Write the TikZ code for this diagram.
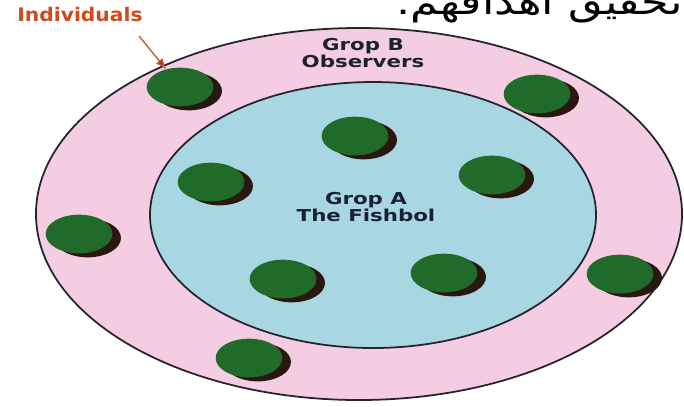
\documentclass[tikz,border=0pt]{standalone}
\usepackage{fontspec}
\usepackage{graphicx}
\usepackage{xcolor}
\usepackage{tikz}
\usetikzlibrary{arrows.meta,shapes.geometric,shadows}
\TeXXeTstate=1
\newfontfamily\labelfont{DejaVu Sans}
\newfontfamily\arabicfont[Script=Arabic]{DejaVu Sans}
\definecolor{ringpink}{HTML}{F5CDE2}
\definecolor{bowlblue}{HTML}{A8D6E3}
\definecolor{ringline}{HTML}{24232E}
\definecolor{fishgreen}{HTML}{216B2A}
\definecolor{fishshade}{HTML}{2A1810}
\definecolor{textnavy}{HTML}{1B2130}
\definecolor{tagorange}{HTML}{D14A1B}
\definecolor{arrowbrown}{HTML}{BC5A35}
\definecolor{arrowred}{HTML}{D0261C}
\newcommand{\wide}[2][1.3]{\scalebox{#1}[1]{#2}}
\tikzset{
  ringfill/.style={draw=ringline,line width=1.5pt},
  fishdot/.style={ellipse,fill=fishgreen,minimum width=2.0cm,minimum height=1.16cm,inner sep=0pt,
    drop shadow={shadow xshift=0.26cm,shadow yshift=-0.12cm,fill=fishshade,opacity=1}},
  grouplabel/.style={font=\labelfont\bfseries\fontsize{14}{14.2}\selectfont,text=textnavy,align=center,inner sep=0pt},
  tagarrow/.style={-{Latex[length=3.2mm,width=2.6mm,fill=arrowred]},draw=arrowbrown,line width=1.1pt}
}
\begin{document}
\begin{tikzpicture}[x=0.03cm,y=-0.03cm]
  \path[use as bounding box,clip] (0,0) rectangle (684,406);
  \fill[white] (0,0) rectangle (684,406);
  % the two rings
  \filldraw[ringfill,fill=ringpink] (359,214) ellipse [x radius=9.69cm,y radius=5.58cm];
  \filldraw[ringfill,fill=bowlblue] (373,215) ellipse [x radius=6.69cm,y radius=3.99cm];
  % group B, outer ring
  \node[fishdot] (obs1) at (180,87) {};
  \node[fishdot] (obs2) at (537,94) {};
  \node[fishdot] (obs3) at (79,234) {};
  \node[fishdot] (obs4) at (620,274) {};
  \node[fishdot] (obs5) at (249,358) {};
  % group A, fishbowl
  \node[fishdot] (fish1) at (355,136) {};
  \node[fishdot] (fish2) at (211,182) {};
  \node[fishdot] (fish3) at (492,175) {};
  \node[fishdot] (fish4) at (283,279) {};
  \node[fishdot] (fish5) at (444,273) {};
  % labels
  \node[grouplabel] (grpB) at (363,53) {\wide{Grop B}\\\wide{Observers}};
  \node[grouplabel] (grpA) at (366,207) {\wide{Grop A}\\\wide{The Fishbol}};
  \node[font=\labelfont\bfseries\fontsize{16}{18}\selectfont,text=tagorange,inner sep=0pt] (indiv) at (80,15) {\wide[1.08]{Individuals}};
  \coordinate (tagtail) at (139,36);
  \draw[tagarrow] (tagtail) -- (obs1.128);
  \node[font=\arabicfont\fontsize{30}{32}\selectfont,anchor=base east,inner sep=0pt] (goal) at (683,14) {\wide[1.27]{\beginR تحقيق أهدافهم.\endR}};
\end{tikzpicture}
\end{document}
